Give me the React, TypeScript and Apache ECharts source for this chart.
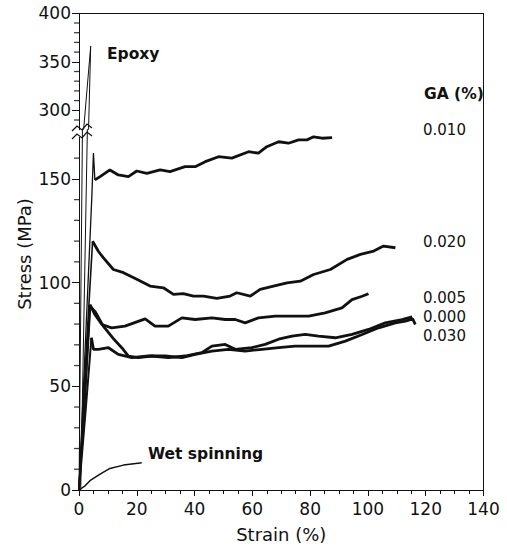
import React, { useEffect, useRef } from "react";
import * as echarts from "echarts";

// ---- tick values ----
const lowerTicks = [0, 50, 100, 150];
const lowerMinorTicks = [10, 20, 30, 40, 60, 70, 80, 90, 110, 120, 130, 140, 160];
const upperTicks = [300, 350, 400];
const upperMinorTicks = [290, 310, 320, 330, 340, 360, 370, 380, 390];

// ---- series data: [strain %, stress MPa] ----
const epoxyRise = [[0, 0], [1.2, 174]];
const epoxyDrop = [[2.9, 174], [0.6, 0]];
const epoxyPeak = [[1.6, 280], [4.05, 366], [3.3, 280]];

const rise010 = [[0, 0], [2.5, 80], [4.4, 140], [5.0, 162.5], [5.5, 149.5]];
const flow010 = [
  [5.5, 149.5], [7.3, 151.1], [10.7, 154.3], [13.6, 151.9], [17.1, 151.1], [20.0, 153.8],
  [23.5, 152.7], [28.1, 154.3], [31.5, 153.5], [36.7, 155.9], [40.2, 155.9], [43.7, 158.3],
  [48.3, 160.7], [52.9, 160.0], [58.7, 163.1], [62.1, 162.4], [65.0, 165.5], [69.1, 167.9],
  [72.5, 167.2], [76.0, 168.8], [78.9, 168.8], [81.2, 170.3], [84.1, 169.6], [87.6, 169.9],
];

const rise020 = [[0, 0], [2.2, 60], [4.7, 119.9]];
const flow020 = [
  [4.7, 119.9], [6.7, 115.1], [8.4, 112.0], [11.9, 106.3], [15.4, 104.8], [20.0, 101.6],
  [24.6, 98.3], [29.2, 97.5], [32.7, 94.3], [36.1, 94.7], [39.6, 93.5], [43.1, 93.5],
  [47.7, 92.4], [52.3, 93.5], [54.6, 95.1], [59.3, 93.5], [62.7, 96.7], [67.3, 98.3],
  [72.0, 99.9], [76.6, 100.7], [81.2, 103.9], [87.0, 106.3], [92.8, 111.2], [97.4, 113.6],
  [102.0, 115.2], [105.4, 117.6], [109.5, 116.8],
];

const rise005 = [[0, 0], [2.0, 45], [3.8, 89.4]];
const flow005 = [
  [3.8, 89.4], [5.5, 84.6], [7.9, 79.8], [11.3, 78.2], [15.9, 79.0], [22.9, 82.5],
  [26.3, 79.0], [30.9, 79.0], [35.6, 83.0], [40.2, 82.2], [46.0, 83.0], [50.6, 82.2],
  [54.1, 82.2], [57.5, 80.6], [62.1, 83.0], [67.9, 83.8], [73.7, 83.8], [79.5, 83.8],
  [85.2, 85.4], [91.0, 87.8], [94.5, 91.8], [98.0, 93.4], [100.2, 94.6],
];

const rise000 = [[0, 0], [2.1, 45], [3.9, 88.5]];
const flow000 = [
  [3.9, 88.5], [5.6, 86.0], [8.4, 79.0], [11.9, 73.0], [14.8, 68.6], [17.1, 64.6],
  [20.5, 63.8], [25.2, 64.6], [30.9, 63.8], [36.7, 64.6], [42.5, 66.2], [46.0, 69.4],
  [50.6, 70.2], [54.1, 67.8], [59.8, 68.6], [64.4, 70.2], [69.1, 72.7], [73.7, 74.2],
  [78.3, 75.0], [82.9, 74.2], [88.7, 73.4], [94.5, 75.0], [100.2, 77.4], [106.0, 80.6],
  [111.8, 82.2], [115.3, 83.5],
];

const rise030 = [[0, 0], [2.4, 40], [4.3, 73.4]];
const flow030 = [
  [4.3, 73.4], [5.0, 67.8], [6.7, 67.8], [10.2, 68.6], [13.6, 65.4], [18.3, 63.8],
  [24.0, 64.6], [29.8, 64.6], [35.6, 63.8], [40.2, 65.4], [46.0, 67.0], [51.7, 67.8],
  [57.5, 67.0], [63.3, 67.8], [69.1, 68.6], [74.8, 69.4], [80.6, 69.4], [86.4, 69.4],
  [92.2, 71.8], [98.0, 75.0], [103.7, 78.2], [109.5, 80.6], [113.0, 81.4], [115.5, 82.5],
  [116.4, 79.8],
];

const wetSpinning = [
  [0, 0], [2.1, 2.0], [3.8, 4.5], [7.3, 7.7], [10.7, 10.4], [15.4, 12.0], [21.1, 13.0], [21.7, 13.1],
];

const gaLabels = ["0.010", "0.020", "0.005", "0.000", "0.030"];

const FONT = "DejaVu Sans";
const INK = "#111";

export default function App() {
  const ref = useRef<HTMLDivElement>(null);

  useEffect(() => {
    if (!ref.current) return;
    const chart = echarts.init(ref.current, null, { renderer: "svg" });

    const left = 79;
    const right = 483.5;
    const upperTop = 13.3;
    const upperBottom = 129.7;
    const lowerTop = 137.4;
    const lowerBottom = 490.7;
    const W = 507;
    const H = 548;

    const line = (data: number[][], grid: number, width = 1.2) => ({
      type: "line",
      data,
      xAxisIndex: grid,
      yAxisIndex: grid,
      showSymbol: false,
      clip: false,
      lineStyle: { color: INK, width },
      z: 3,
    });

    // minor y ticks: small rect symbols placed on the axis through its scale
    const minorTickSeries = (values: number[], grid: number) => ({
      type: "scatter",
      name: "minor ticks",
      xAxisIndex: grid,
      yAxisIndex: grid,
      clip: false,
      silent: true,
      z: 5,
      symbol: "rect",
      symbolSize: [5, 1.3],
      symbolOffset: [-2.5, 0],
      itemStyle: { color: INK },
      data: values.map((v) => [0, v]),
    });

    const gaY = [130, 241.5, 298, 316.5, 335.5];

    const labelStyle = { fontFamily: FONT, fontSize: 17, color: INK, margin: 8 };

    const option: any = {
      animation: false,
      backgroundColor: "#fff",
      grid: [
        { left, right: W - right, top: lowerTop, bottom: H - lowerBottom },
        { left, right: W - right, top: upperTop, height: upperBottom - upperTop },
      ],
      xAxis: [
        {
          gridIndex: 0,
          type: "value",
          min: 0,
          max: 140,
          interval: 20,
          axisLine: { show: true, lineStyle: { color: INK, width: 1 } },
          axisTick: { show: true, inside: false, length: 6, lineStyle: { color: INK } },
          minorTick: { show: true, splitNumber: 4, length: 4, lineStyle: { color: INK } },
          axisLabel: { fontFamily: FONT, fontSize: 17, color: INK, margin: 10 },
          splitLine: { show: false },
          name: "Strain (%)",
          nameLocation: "middle",
          nameGap: 35,
          nameTextStyle: { fontFamily: FONT, fontSize: 18, color: INK },
        },
        {
          gridIndex: 1,
          type: "value",
          min: 0,
          max: 140,
          position: "top",
          axisLine: { show: true, lineStyle: { color: INK, width: 1 } },
          axisTick: { show: false },
          axisLabel: { show: false },
          splitLine: { show: false },
        },
      ],
      yAxis: [
        {
          gridIndex: 0,
          type: "value",
          position: "left",
          min: 0,
          max: 170,
          axisLine: { show: true, lineStyle: { color: INK, width: 1 } },
          axisTick: { show: true, length: 7, customValues: lowerTicks, lineStyle: { color: INK, width: 1 } },
          axisLabel: { ...labelStyle, customValues: lowerTicks },
          splitLine: { show: false },
        },
        {
          gridIndex: 1,
          type: "value",
          position: "left",
          min: 280,
          max: 400,
          axisLine: { show: true, lineStyle: { color: INK, width: 1 } },
          axisTick: { show: true, length: 7, customValues: upperTicks, lineStyle: { color: INK, width: 1 } },
          axisLabel: { ...labelStyle, customValues: upperTicks },
          splitLine: { show: false },
        },
      ],
      series: [
        minorTickSeries(lowerMinorTicks, 0),
        minorTickSeries(upperMinorTicks, 1),
        { name: "Epoxy", ...line(epoxyRise, 0, 1) },
        { name: "Epoxy drop", ...line(epoxyDrop, 0, 1) },
        { name: "Epoxy peak", ...line(epoxyPeak, 1, 1) },
        { name: "0.010 rise", ...line(rise010, 0, 1.3) },
        { name: "0.020 rise", ...line(rise020, 0, 1.6) },
        { name: "0.005 rise", ...line(rise005, 0, 2.0) },
        { name: "0.000 rise", ...line(rise000, 0, 2.0) },
        { name: "0.030 rise", ...line(rise030, 0, 2.0) },
        { name: "0.010", ...line(flow010, 0, 2.8) },
        { name: "0.020", ...line(flow020, 0, 2.8) },
        { name: "0.005", ...line(flow005, 0, 2.8) },
        { name: "0.000", ...line(flow000, 0, 2.8) },
        { name: "0.030", ...line(flow030, 0, 2.8) },
        { name: "Wet spinning", ...line(wetSpinning, 0, 1.5) },
      ],
      graphic: [
        {
          type: "line",
          shape: { x1: right, y1: upperTop, x2: right, y2: lowerBottom },
          style: { stroke: INK, lineWidth: 1 },
        },
        {
          type: "polyline",
          shape: { points: [[72, 131], [77, 126], [82, 130], [87, 124], [92, 128]] },
          style: { stroke: INK, lineWidth: 1.2, fill: null },
          z: 10,
        },
        {
          type: "polyline",
          shape: { points: [[72, 139], [77, 134], [82, 138], [87, 132], [92, 136]] },
          style: { stroke: INK, lineWidth: 1.2, fill: null },
          z: 10,
        },
        {
          type: "text",
          x: 24,
          y: 254,
          rotation: Math.PI / 2,
          style: {
            text: "Stress (MPa)",
            fontFamily: FONT,
            fontSize: 18,
            fill: INK,
            align: "center",
            verticalAlign: "middle",
          },
        },
        {
          type: "text",
          x: 107,
          y: 54,
          style: { text: "Epoxy", fontFamily: FONT, fontSize: 15.5, fontWeight: "bold", fill: INK, align: "left", verticalAlign: "middle" },
        },
        {
          type: "text",
          x: 148,
          y: 453.5,
          style: { text: "Wet spinning", fontFamily: FONT, fontSize: 15.5, fontWeight: "bold", fill: INK, align: "left", verticalAlign: "middle" },
        },
        {
          type: "text",
          x: 424,
          y: 94,
          style: { text: "GA (%)", fontFamily: FONT, fontSize: 15.5, fontWeight: "bold", fill: INK, align: "left", verticalAlign: "middle" },
        },
        ...gaLabels.map((t, i) => ({
          type: "text",
          x: 423,
          y: gaY[i],
          style: { text: t, fontFamily: FONT, fontSize: 15, fill: INK, align: "left", verticalAlign: "middle" },
        })),
      ],
    };

    chart.setOption(option);
    return () => chart.dispose();
  }, []);

  return (
    <div
      ref={ref}
      style={{ position: "fixed", left: 0, top: 0, width: 507, height: 548, background: "#fff" }}
    />
  );
}
